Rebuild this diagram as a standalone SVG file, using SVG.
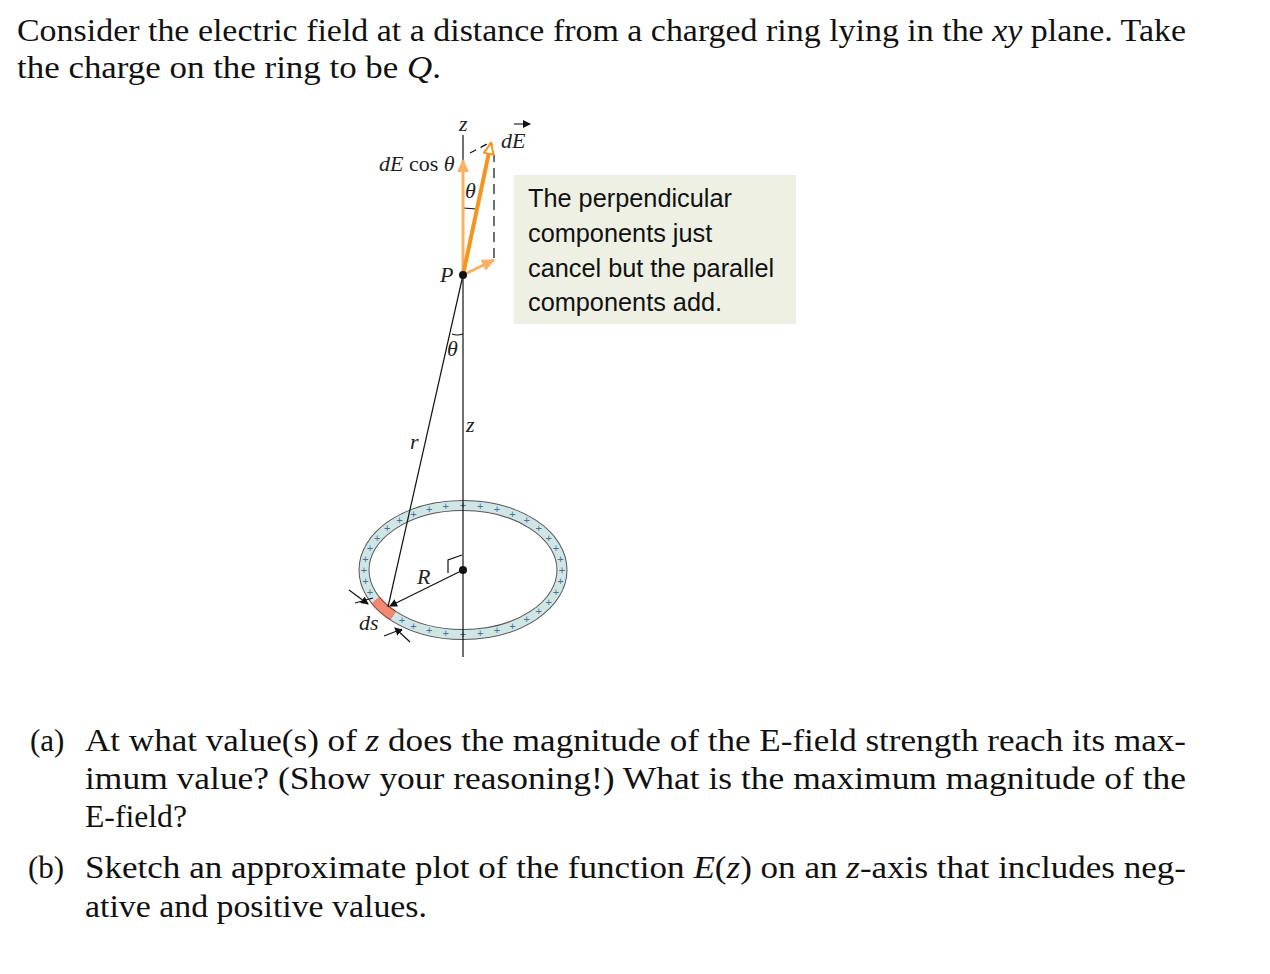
<svg xmlns="http://www.w3.org/2000/svg" width="1270" height="974" viewBox="0 0 1270 974">
<defs>
<style>
.t{font-family:"Liberation Serif",serif;font-size:31px;fill:#111}
.i{font-style:italic}
.l{font-family:"Liberation Serif",serif;font-size:22px;fill:#222}
.b{font-family:"Liberation Sans",sans-serif;font-size:25.3px;fill:#111}
.p{font-family:"Liberation Sans",sans-serif;font-size:11px;fill:#4a6fa0;text-anchor:middle}
</style>
<marker id="a" markerWidth="8" markerHeight="8" refX="7" refY="4" orient="auto" markerUnits="userSpaceOnUse"><path d="M0,0 L8,4 L0,8 z" fill="#111"/></marker>
<marker id="o1" markerWidth="14" markerHeight="12" refX="12" refY="6" orient="auto" markerUnits="userSpaceOnUse"><path d="M1,1 L12,6 L1,11 z" fill="#fff" stroke="#f7941d" stroke-width="2"/></marker>
<marker id="o2" markerWidth="14" markerHeight="12" refX="12" refY="6" orient="auto" markerUnits="userSpaceOnUse"><path d="M0,0 L13,6 L0,12 z" fill="#fbb062"/></marker>
</defs>
<rect width="1270" height="974" fill="#fff"/>
<g id="intro">
<text class="t" x="17" y="41" textLength="1169" lengthAdjust="spacingAndGlyphs">Consider the electric field at a distance from a charged ring lying in the <tspan class="i">xy</tspan> plane. Take</text>
<text class="t" x="17" y="78" textLength="424" lengthAdjust="spacingAndGlyphs">the charge on the ring to be <tspan class="i">Q</tspan>.</text>
</g>
<g id="ring">
<ellipse cx="463" cy="570" rx="99" ry="64.5" fill="none" stroke="#555" stroke-width="11"/>
<ellipse cx="463" cy="570" rx="99" ry="64.5" fill="none" stroke="#cfe6e4" stroke-width="9"/>
<path d="M393,615.6 A99,64.5 0 0 1 375.6,600.3" fill="none" stroke="#9b3a2a" stroke-width="11"/>
<path d="M393,615.6 A99,64.5 0 0 1 375.6,600.3" fill="none" stroke="#f28a72" stroke-width="9"/>
<g>
<text class="p" x="562" y="574">+</text><text class="p" x="560.5" y="585">+</text><text class="p" x="556" y="596">+</text><text class="p" x="548.7" y="606">+</text><text class="p" x="538.8" y="615">+</text><text class="p" x="526.6" y="623">+</text><text class="p" x="512.5" y="630">+</text><text class="p" x="496.9" y="634">+</text><text class="p" x="480.2" y="637">+</text><text class="p" x="463" y="638">+</text><text class="p" x="445.8" y="637">+</text><text class="p" x="429.1" y="634">+</text><text class="p" x="413.5" y="630">+</text><text class="p" x="402" y="624">+</text><text class="p" x="370" y="596">+</text><text class="p" x="365.5" y="585">+</text><text class="p" x="364" y="574">+</text><text class="p" x="365.5" y="563">+</text><text class="p" x="370" y="552">+</text><text class="p" x="377.3" y="542">+</text><text class="p" x="387.2" y="532">+</text><text class="p" x="399.4" y="524">+</text><text class="p" x="413.5" y="518">+</text><text class="p" x="429.1" y="513">+</text><text class="p" x="445.8" y="510">+</text><text class="p" x="463" y="509">+</text><text class="p" x="480.2" y="510">+</text><text class="p" x="496.9" y="513">+</text><text class="p" x="512.5" y="518">+</text><text class="p" x="526.6" y="524">+</text><text class="p" x="538.8" y="532">+</text><text class="p" x="548.7" y="542">+</text><text class="p" x="556" y="552">+</text><text class="p" x="560.5" y="563">+</text>
</g>
</g>
<g id="connectors" fill="none" stroke="#111" stroke-width="1.2">
<line x1="463" y1="135" x2="463" y2="657"/>
<line x1="463" y1="275" x2="388" y2="607"/>
<line x1="463" y1="570" x2="390" y2="606" marker-end="url(#a)"/>
<path d="M448,573 L448,560 L462,555"/>
<path d="M463,208 L477,209"/>
<path d="M452,334 Q457,336 463,334"/>
<line x1="470" y1="153" x2="487" y2="144" stroke-dasharray="7,5"/>
<line x1="494" y1="258" x2="494" y2="155" stroke-dasharray="10,6"/>
<line x1="349" y1="590" x2="368" y2="604" marker-end="url(#a)"/>
<line x1="355" y1="603" x2="373" y2="598"/>
<line x1="410" y1="642" x2="395" y2="628" marker-end="url(#a)"/>
<line x1="384" y1="636" x2="402" y2="629"/>
<line x1="463" y1="275" x2="463" y2="160" stroke="#fbb062" stroke-width="3" marker-end="url(#o2)"/>
<line x1="463" y1="275" x2="494" y2="260" stroke="#fbb062" stroke-width="3" marker-end="url(#o2)"/>
<line x1="463" y1="275" x2="491" y2="143" stroke="#f7941d" stroke-width="4" marker-end="url(#o1)"/>
</g>
<g id="labels">
<circle cx="463" cy="275" r="4" fill="#111"/>
<circle cx="463" cy="570" r="4" fill="#111"/>
<text class="l i" x="459" y="131">z</text>
<text class="l" x="501" y="148"><tspan class="i">dE</tspan></text>
<line x1="514" y1="124" x2="530" y2="124" stroke="#222" stroke-width="1.2" marker-end="url(#a)"/>
<text class="l" x="379" y="171"><tspan class="i">dE</tspan> cos <tspan class="i">θ</tspan></text>
<text class="l i" x="465" y="198">θ</text>
<text class="l i" x="440" y="282">P</text>
<text class="l i" x="447" y="356">θ</text>
<text class="l i" x="466" y="432">z</text>
<text class="l i" x="410" y="449">r</text>
<text class="l i" x="417" y="584">R</text>
<text class="l i" x="359" y="630">ds</text>
</g>
<g id="note">
<rect x="514" y="175" width="282" height="149" fill="#eef0e4"/>
<text class="b" x="528" y="207">The perpendicular</text>
<text class="b" x="528" y="242">components just</text>
<text class="b" x="528" y="277">cancel but the parallel</text>
<text class="b" x="528" y="311">components add.</text>
</g>
<g id="questions">
<text class="t" x="30" y="751">(a)</text>
<text class="t" x="85" y="751" textLength="1101" lengthAdjust="spacingAndGlyphs">At what value(s) of <tspan class="i">z</tspan> does the magnitude of the E-field strength reach its max-</text>
<text class="t" x="85" y="789" textLength="1101" lengthAdjust="spacingAndGlyphs">imum value? (Show your reasoning!) What is the maximum magnitude of the</text>
<text class="t" x="85" y="827" textLength="102" lengthAdjust="spacingAndGlyphs">E-field?</text>
<text class="t" x="28" y="878">(b)</text>
<text class="t" x="85" y="878" textLength="1101" lengthAdjust="spacingAndGlyphs">Sketch an approximate plot of the function <tspan class="i">E</tspan>(<tspan class="i">z</tspan>) on an <tspan class="i">z</tspan>-axis that includes neg-</text>
<text class="t" x="85" y="917" textLength="342" lengthAdjust="spacingAndGlyphs">ative and positive values.</text>
</g>
</svg>
